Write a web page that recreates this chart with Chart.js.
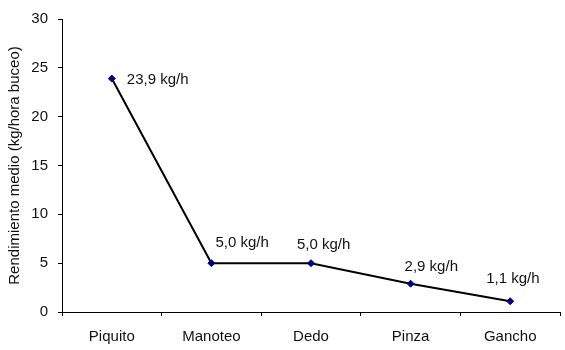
<!DOCTYPE html>
<html>
<head>
<meta charset="utf-8">
<script src="https://cdn.jsdelivr.net/npm/chart.js@4/dist/chart.umd.min.js"></script>
<style>
  html, body { margin: 0; padding: 0; background: #fff; }
  #wrap { width: 565px; height: 350px; }
</style>
</head>
<body>
<div id="wrap"><canvas id="c" width="565" height="350"></canvas></div>
<script>
// Rendimiento medio por arte de captura
const categories = ['Piquito', 'Manoteo', 'Dedo', 'Pinza', 'Gancho'];
const rendimiento = [23.9, 5.0, 5.0, 2.9, 1.1];
const yTicks = [0, 5, 10, 15, 20, 25, 30];

const FONT = 'Liberation Sans, Arial, sans-serif';

// Writes "x,y kg/h" next to every point
const valueLabels = {
  id: 'valueLabels',
  afterDatasetsDraw(chart, args, opts) {
    const ctx = chart.ctx;
    const meta = chart.getDatasetMeta(0);
    ctx.save();
    ctx.font = '15px ' + FONT;
    ctx.fillStyle = '#111';
    ctx.textAlign = 'left';
    ctx.textBaseline = 'middle';
    meta.data.forEach((pt, i) => {
      const v = chart.data.datasets[0].data[i];
      const txt = v.toFixed(1).replace('.', ',') + ' kg/h';
      const [dx, dy] = opts.offsets[i];
      ctx.fillText(txt, pt.x + dx, pt.y + dy);
    });
    ctx.restore();
  }
};

new Chart(document.getElementById('c'), {
  type: 'line',
  data: {
    labels: categories,
    datasets: [{
      data: rendimiento,
      borderColor: '#000',
      borderWidth: 2,
      tension: 0,
      pointStyle: 'rectRot',
      pointRadius: 3.5,
      pointBackgroundColor: '#000080',
      pointBorderColor: '#000080',
      pointBorderWidth: 1
    }]
  },
  options: {
    responsive: false,
    animation: false,
    events: [],
    layout: { padding: { top: 17, right: 1, left: 0, bottom: 0 } },
    plugins: {
      legend: { display: false },
      tooltip: { enabled: false },
      valueLabels: {
        offsets: [[15, 1], [4, -20], [-14, -18], [-6, -17], [-24, -22]]
      }
    },
    scales: {
      x: {
        offset: true,
        grid: {
          offset: true,
          drawOnChartArea: false,
          drawTicks: true,
          tickLength: 4,
          color: '#000'
        },
        border: { display: true, color: '#000', width: 1 },
        ticks: {
          color: '#111',
          font: { family: FONT, size: 15 },
          padding: 12,
          maxRotation: 0
        },
        afterFit(scale) { scale.height = 38; }
      },
      y: {
        min: 0,
        max: 30,
        afterBuildTicks(scale) { scale.ticks = yTicks.map(v => ({ value: v })); },
        grid: {
          drawOnChartArea: false,
          drawTicks: true,
          tickLength: 4,
          color: '#000'
        },
        border: { display: true, color: '#000', width: 1 },
        ticks: {
          color: '#111',
          font: { family: FONT, size: 15 },
          padding: 10
        },
        title: {
          display: true,
          text: 'Rendimiento medio (kg/hora buceo)',
          color: '#111',
          font: { family: FONT, size: 15 },
          padding: { top: 6, bottom: 0 }
        },
        afterFit(scale) { scale.width = 62; }
      }
    }
  },
  plugins: [valueLabels]
});
</script>
</body>
</html>
